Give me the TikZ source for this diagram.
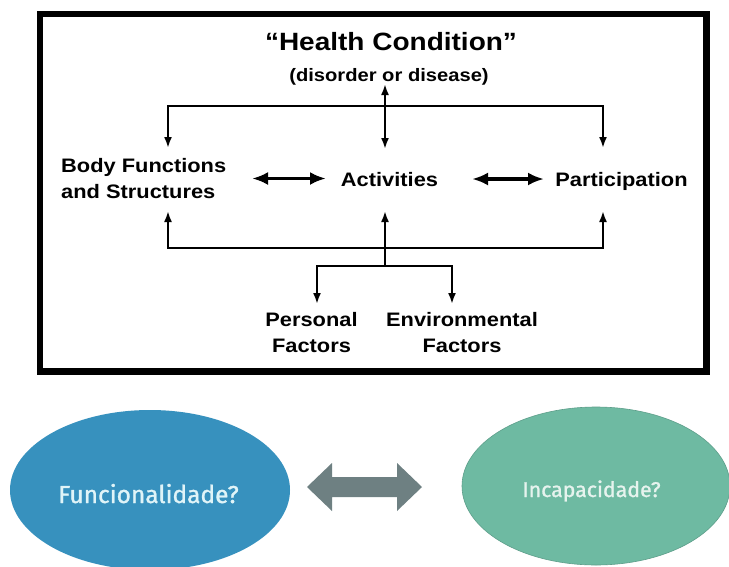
\documentclass[tikz,border=0pt]{standalone}
\usepackage{fontspec}
\setmainfont{Liberation Sans}
\newfontfamily\icfarial[FakeStretch=1.12]{Liberation Sans}
\newfontfamily\icffira[FakeBold=1.2]{Fira Sans}
\usetikzlibrary{arrows.meta,shapes.geometric}
\definecolor{funcblue}{HTML}{3791BE}
\definecolor{incteal}{HTML}{6EBAA2}
\definecolor{arrgray}{HTML}{6E8082}
\definecolor{functext}{HTML}{E0F4F8}
\definecolor{inctext}{HTML}{E6F3EE}
\tikzset{
  lbl/.style={inner sep=0pt, font=\icfarial\bfseries\fontsize{19.5}{26}\selectfont},
  thin arr/.style={line width=2pt, -{Latex[length=11pt,width=8pt]}},
  thin dbl/.style={line width=2pt, {Latex[length=11pt,width=8pt]}-{Latex[length=11pt,width=8pt]}},
  thick dbl/.style={line width=3.5pt, {Latex[length=16pt,width=13pt]}-{Latex[length=16pt,width=13pt]}},
  bubble/.style={ellipse, inner sep=0pt},
}
\begin{document}
\begin{tikzpicture}[x=1pt,y=-1pt]
\useasboundingbox (0,0) rectangle (729,566);
\fill[white] (0,0) rectangle (729,566);
% frame
\node[draw, line width=6.5pt, minimum width=666.5pt, minimum height=357.5pt, inner sep=0pt] (frame) at (373.25,192.75) {};
% texts
\node[inner sep=0pt, anchor=base, font=\icfarial\bfseries\fontsize{25}{30}\selectfont] (hc) at (391,50) {“Health Condition”};
\node[inner sep=0pt, anchor=base, font=\icfarial\bfseries\fontsize{18}{22}\selectfont] (dd) at (389,81) {(disorder or disease)};
\node[lbl, anchor=base west, align=left] (bfs) at (61,198) {Body Functions\\and Structures};
\node[lbl, anchor=base] (act) at (389.5,186) {Activities};
\node[lbl, anchor=base] (par) at (621.5,186) {Participation};
\node[lbl, anchor=base, align=center] (pf) at (311.5,352) {Personal\\Factors};
\node[lbl, anchor=base, align=center] (ef) at (462,352) {Environmental\\Factors};
% junction coordinates
\coordinate (tA) at (385,84);
\coordinate (tB) at (385,149);
\coordinate (hj) at (385,106);
\coordinate (bTop) at (168,148);
\coordinate (pTop) at (603,148);
\coordinate (lj) at (385,248);
\coordinate (bBot) at (168,211);
\coordinate (aBot) at (385,211);
\coordinate (pBot) at (603,211);
\coordinate (fj) at (385,266);
\coordinate (pfTop) at (317,304);
\coordinate (efTop) at (452,304);
\coordinate (baL) at (252,178.5);
\coordinate (baR) at (326,178.5);
\coordinate (apL) at (472,179);
\coordinate (apR) at (544,179);
% connectors
\draw[thin dbl] (tA) -- (tB);
\draw[thin arr] (hj) -| (bTop);
\draw[thin arr] (hj) -| (pTop);
\draw[thin arr] (lj) -| (bBot);
\draw[thin arr] (lj) -| (pBot);
\draw[thin arr] (fj) -- (aBot);
\draw[thin arr] (fj) -| (pfTop);
\draw[thin arr] (fj) -| (efTop);
\draw[thick dbl] (baL) -- (baR);
\draw[thick dbl] (apL) -- (apR);
% bottom ellipses
\node[bubble, fill=funcblue, minimum width=280pt, minimum height=160pt] (func) at (150,490) {};
\node[bubble, fill=incteal, draw=incteal!85!black, line width=0.6pt, minimum width=268pt, minimum height=158pt] (inc) at (596,486) {};
\node[inner sep=0pt, anchor=base, text=functext, font=\icffira\fontsize{24.5}{28}\selectfont] (functxt) at (148.5,503) {Funcionalidade?};
\node[inner sep=0pt, anchor=base, text=inctext, font=\icffira\fontsize{21.3}{26}\selectfont] (inctxt) at (591.5,497) {Incapacidade?};
% fat double arrow
\fill[arrgray] (307,487) -- (332,463) -- (332,477) -- (397,477) -- (397,463) -- (422,487) -- (397,511) -- (397,497) -- (332,497) -- (332,511) -- cycle;
\end{tikzpicture}
\end{document}
